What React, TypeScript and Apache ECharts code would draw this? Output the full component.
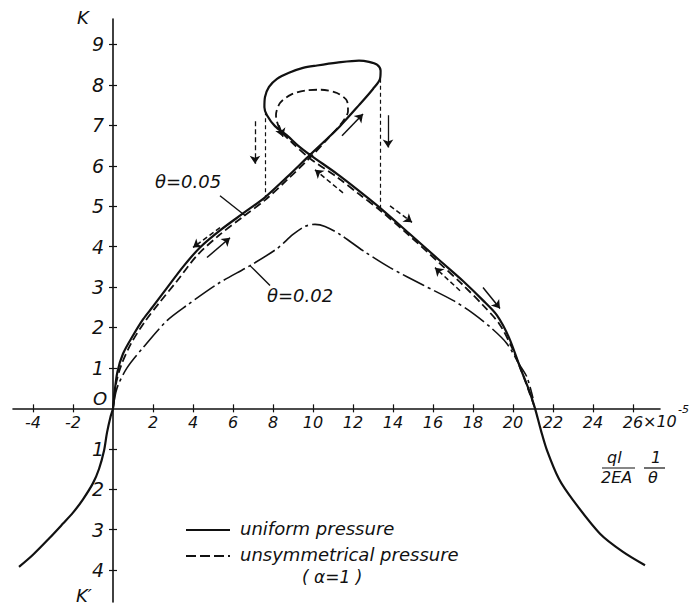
import { useEffect, useRef } from "react";
import * as echarts from "echarts";

// Tick positions (K' below the axis is drawn as negative K)
const xTickValues = [-4, -2, 2, 4, 6, 8, 10, 12, 14, 16, 18, 20, 22, 24, 26];
const yTickValues = [-4, -3, -2, -1, 1, 2, 3, 4, 5, 6, 7, 8, 9];

// θ = 0.05, uniform pressure: one continuous path through the snap-through loop
const uniform005: [number, number][] = [
  [-4.7, -3.92], [-4.0, -3.62], [-3.2, -3.22], [-2.5, -2.85], [-2.0, -2.58],
  [-1.5, -2.25], [-1.0, -1.85], [-0.7, -1.5], [-0.45, -1.05], [-0.3, -0.6],
  [-0.12, -0.2], [0, 0], [0.08, 0.4], [0.22, 0.9], [0.5, 1.35], [1.0, 1.8],
  [1.5, 2.2], [2.0, 2.52], [2.7, 2.98], [3.5, 3.5], [4.35, 3.98], [5.4, 4.42],
  [6.5, 4.82], [7.6, 5.22], [8.7, 5.72], [9.85, 6.27], [10.6, 6.62],
  [11.35, 6.98], [12.3, 7.5], [13.0, 7.9], [13.35, 8.15], [13.38, 8.35],
  [13.2, 8.5], [12.8, 8.57], [12.3, 8.6], [11.2, 8.55], [10.2, 8.48],
  [9.5, 8.42], [8.8, 8.3], [8.2, 8.15], [7.8, 7.95], [7.6, 7.7], [7.57, 7.45],
  [7.7, 7.25], [8.1, 6.98], [8.7, 6.75], [9.25, 6.5], [9.85, 6.27],
  [11.2, 5.8], [12.3, 5.38], [13.35, 4.96], [14.8, 4.33], [16.35, 3.65],
  [17.5, 3.15], [18.5, 2.67], [19.2, 2.3], [19.8, 1.75], [20.35, 1.02],
  [20.8, 0.45], [21.1, 0], [21.4, -0.55], [21.7, -1.04], [22.3, -1.75],
  [23.0, -2.27], [24.35, -3.1], [25.5, -3.55], [26.6, -3.88],
];

// θ = 0.05, unsymmetrical pressure (α = 1), with its smaller inner loop
const unsym005: [number, number][] = [
  [0, 0], [0.15, 0.6], [0.4, 1.05], [0.9, 1.6], [1.6, 2.15], [2.3, 2.6],
  [3.2, 3.15], [4.2, 3.78], [5.3, 4.28], [6.5, 4.74], [7.6, 5.15], [8.7, 5.65],
  [9.85, 6.2], [10.8, 6.7], [11.5, 7.1], [11.75, 7.35], [11.7, 7.6],
  [11.2, 7.8], [10.4, 7.88], [9.6, 7.86], [8.9, 7.76], [8.35, 7.55],
  [8.15, 7.25], [8.35, 6.9], [8.9, 6.6], [9.85, 6.18], [11.2, 5.72],
  [12.3, 5.3], [13.35, 4.9], [14.8, 4.28], [16.35, 3.58], [17.5, 3.05],
  [18.5, 2.55], [19.3, 2.1], [19.9, 1.55], [20.4, 0.95], [20.85, 0.35],
  [21.1, 0],
];

// θ = 0.02, uniform pressure
const uniform002: [number, number][] = [
  [0, 0], [0.2, 0.5], [0.7, 1.0], [1.5, 1.5], [2.7, 2.17], [3.7, 2.55],
  [5.3, 3.1], [6.85, 3.53], [8.2, 3.95], [9.0, 4.3], [9.6, 4.5], [10.1, 4.55],
  [10.6, 4.5], [11.35, 4.3], [12.5, 3.9], [13.85, 3.48], [15.5, 3.05],
  [17.0, 2.67], [18.0, 2.35], [19.0, 1.95], [19.7, 1.6], [20.3, 1.1],
  [20.7, 0.77], [21.0, 0.25],
];

// snap-through jumps
const jumpLines = [
  [[7.6, 7.35], [7.6, 5.2]],
  [[13.35, 8.15], [13.35, 4.96]],
];
const jumpArrowsDashed = [[[7.1, 7.1], [7.1, 6.05]]];
const jumpArrowsSolid = [[[13.75, 7.25], [13.75, 6.45]]];

// direction arrows drawn beside the paths
const pathArrowsDashed = [
  [[5.35, 4.47], [4.0, 3.98]],
  [[11.5, 5.33], [10.1, 5.9]],
  [[13.85, 5.01], [14.95, 4.6]],
  [[17.35, 2.91], [16.1, 3.48]],
];
const pathArrowsSolid = [
  [[4.7, 3.73], [5.85, 4.22]],
  [[11.45, 6.74], [12.5, 7.28]],
  [[18.5, 2.99], [19.35, 2.47]],
  [[8.3, 7.0], [8.5, 6.72]],
];

// leader lines from the θ labels
const leaders = [
  [[5.35, 5.26], [6.6, 4.77]],
  [[6.85, 3.53], [7.85, 3.04]],
];

const FONT = "DejaVu Sans";
const INK = "#111";

const W = 691;
const H = 612;
const GRID = { left: 13, right: 31, top: 19, bottom: 10 };
const X_MIN = -5;
const X_MAX = 27.35;
const Y_MIN = -4.79;
const Y_MAX = 9.63;

const text = (
  t: string,
  x: number,
  y: number,
  size = 18,
  extra: Record<string, unknown> = {}
) => ({
  type: "text",
  x,
  y,
  style: {
    text: t,
    fill: INK,
    font: `italic ${size}px "${FONT}"`,
    ...extra,
  },
});

const segLine = (x1: number, y1: number, x2: number, y2: number, w = 1.5, dash?: number[]) => ({
  type: "line",
  shape: { x1, y1, x2, y2 },
  style: { stroke: INK, lineWidth: w, lineDash: dash },
});

const arrowSeries = (data: number[][][], dashed: boolean, width = 1.5) => ({
  type: "lines",
  coordinateSystem: "cartesian2d",
  data: data.map((c) => ({ coords: c })),
  symbol: ["none", "arrow"],
  symbolSize: [5, 8],
  silent: true,
  lineStyle: {
    color: INK,
    width,
    type: dashed ? [5, 3] : "solid",
    opacity: 1,
    curveness: 0,
  },
});

export default function App() {
  const ref = useRef<HTMLDivElement>(null);

  useEffect(() => {
    if (!ref.current) return;
    const chart = echarts.init(ref.current, undefined, { renderer: "svg" });

    // the axes cross at the origin: shift them from the grid edges onto zero
    const gridW = W - GRID.left - GRID.right;
    const gridH = H - GRID.top - GRID.bottom;
    const xAxisOffset = -(gridH * (0 - Y_MIN)) / (Y_MAX - Y_MIN);
    const yAxisOffset = -(gridW * (0 - X_MIN)) / (X_MAX - X_MIN);

    const tickStyle = { color: INK, width: 1.2 };
    const xBase = {
      type: "value",
      min: X_MIN,
      max: X_MAX,
      position: "bottom",
      offset: xAxisOffset,
      splitLine: { show: false },
      axisLine: { show: true, onZero: false, lineStyle: { color: INK, width: 1.6 } },
    };
    const yBase = {
      type: "value",
      min: Y_MIN,
      max: Y_MAX,
      position: "left",
      offset: yAxisOffset,
      splitLine: { show: false },
      axisLine: { show: true, onZero: false, lineStyle: { color: INK, width: 1.6 } },
    };

    chart.setOption({
      animation: false,
      backgroundColor: "#fff",
      grid: { ...GRID, containLabel: false, outerBoundsMode: "none" },
      xAxis: [
        {
          ...xBase,
          axisTick: { show: true, inside: false, length: 4, customValues: xTickValues, lineStyle: tickStyle },
          axisLabel: {
            show: true,
            customValues: xTickValues,
            margin: 6,
            color: INK,
            fontFamily: FONT,
            fontStyle: "italic",
            fontSize: 16,
          },
        },
        {
          ...xBase,
          axisLine: { show: false, onZero: false },
          axisTick: { show: true, inside: true, length: 4, customValues: xTickValues, lineStyle: tickStyle },
          axisLabel: { show: false },
        },
      ],
      yAxis: [
        {
          ...yBase,
          axisTick: { show: true, inside: false, length: 4, customValues: yTickValues, lineStyle: tickStyle },
          axisLabel: {
            show: true,
            customValues: yTickValues,
            margin: 9,
            color: INK,
            fontFamily: FONT,
            fontStyle: "italic",
            fontSize: 19,
            formatter: (v: number) => String(Math.abs(v)),
          },
        },
        {
          ...yBase,
          axisLine: { show: false, onZero: false },
          axisTick: { show: true, inside: true, length: 4, customValues: yTickValues, lineStyle: tickStyle },
          axisLabel: { show: false },
        },
      ],
      series: [
        {
          type: "line",
          data: uniform005,
          showSymbol: false,
          smooth: 0.3,
          silent: true,
          lineStyle: { color: INK, width: 2.2 },
        },
        {
          type: "line",
          data: unsym005,
          showSymbol: false,
          smooth: 0.3,
          silent: true,
          lineStyle: { color: INK, width: 1.8, type: [8, 4] },
        },
        {
          type: "line",
          data: uniform002,
          showSymbol: false,
          smooth: 0.3,
          silent: true,
          lineStyle: { color: INK, width: 1.6, type: [24, 4, 3, 4] },
        },
        {
          type: "lines",
          coordinateSystem: "cartesian2d",
          data: jumpLines.map((c) => ({ coords: c })),
          silent: true,
          lineStyle: { color: INK, width: 1.2, type: [4, 3], opacity: 1 },
        },
        {
          type: "lines",
          coordinateSystem: "cartesian2d",
          data: leaders.map((c) => ({ coords: c })),
          silent: true,
          lineStyle: { color: INK, width: 1.4, opacity: 1 },
        },
        arrowSeries(jumpArrowsDashed, true, 1.3),
        arrowSeries(jumpArrowsSolid, false, 1.3),
        arrowSeries(pathArrowsDashed, true, 1.5),
        arrowSeries(pathArrowsSolid, false, 1.5),
      ],
      graphic: [
        text("K", 77, 8, 18),
        text("K′", 76, 586, 18),
        text("O", 93, 389, 18),
        text("θ=0.05", 155, 172, 18),
        text("θ=0.02", 267, 286, 18),
        text("×10", 643, 413, 16),
        text("-5", 678, 404, 11),
        // abscissa quantity  (ql / 2EA)(1 / θ)
        text("ql", 607, 449, 16),
        segLine(602, 468, 635, 468, 1.2),
        text("2EA", 601, 469, 16),
        text("1", 651, 449, 16),
        segLine(644, 468, 665, 468, 1.2),
        text("θ", 648, 469, 16),
        // key
        segLine(186, 530, 230, 530, 1.8),
        segLine(186, 556, 230, 556, 1.8, [10, 4]),
        text("uniform pressure", 240, 519, 18),
        text("unsymmetrical pressure", 240, 545, 18),
        text("( α=1 )", 302, 568, 17),
      ],
    });

    return () => chart.dispose();
  }, []);

  return (
    <div
      ref={ref}
      style={{ position: "absolute", left: 0, top: 0, width: W, height: H }}
    />
  );
}
